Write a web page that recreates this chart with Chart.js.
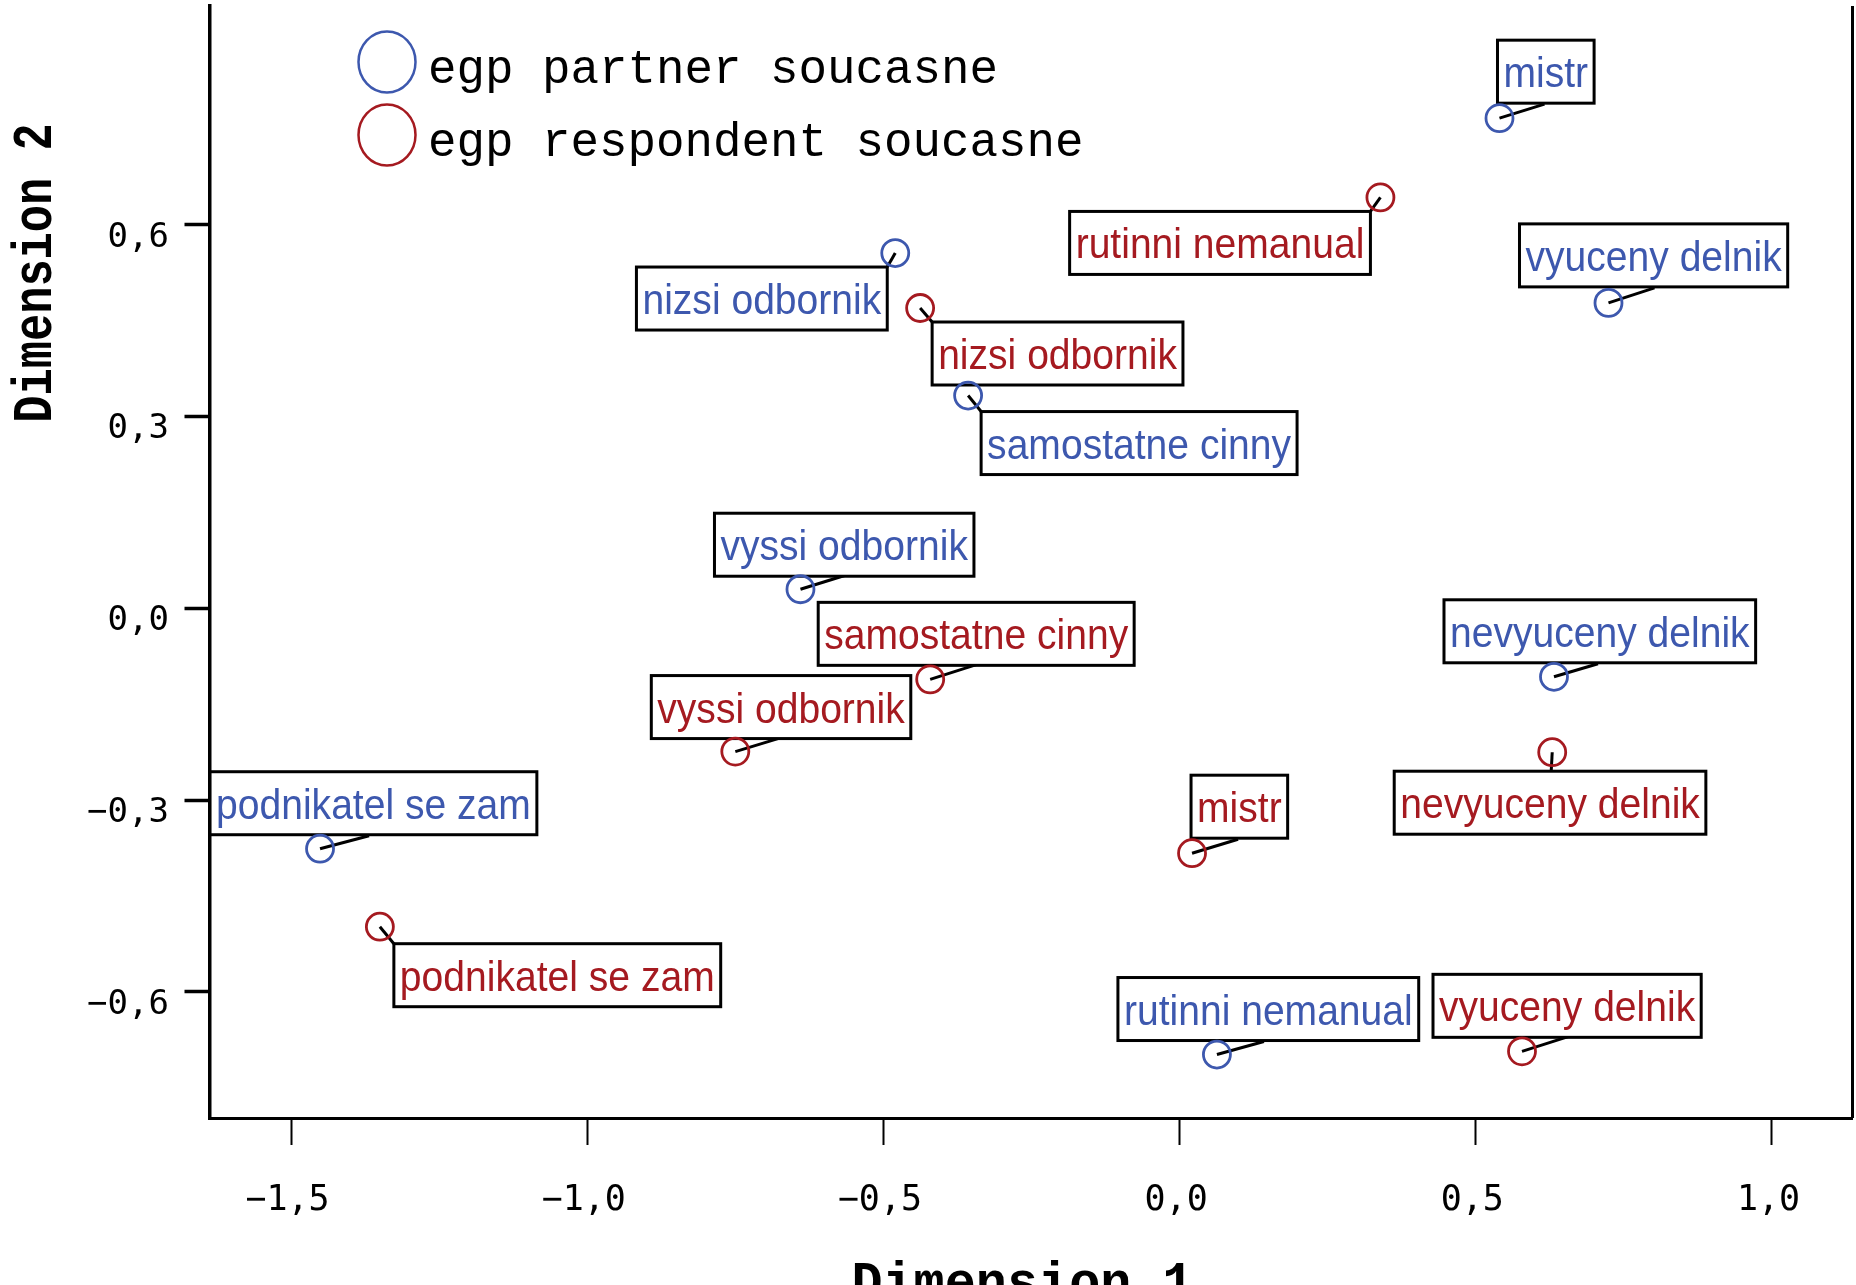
<!DOCTYPE html>
<html><head><meta charset="utf-8">
<script src="https://cdn.jsdelivr.net/npm/chart.js@4.4.0/dist/chart.umd.min.js"></script>
<style>html,body{margin:0;padding:0;background:#fff;overflow:hidden}canvas{display:block}</style>
</head><body>
<canvas id="c" width="1856" height="1285" style="width:1856px;height:1285px"></canvas>
<script>
// ---- data ----
const categories = ["mistr", "vyuceny delnik", "nizsi odbornik", "samostatne cinny", "vyssi odbornik", "nevyuceny delnik", "podnikatel se zam", "rutinni nemanual"];
const seriesNames = ["egp partner soucasne", "egp respondent soucasne"];
const partnerX = [0.540, 0.724, -0.480, -0.357, -0.640, 0.632, -1.451, 0.063];
const partnerY = [0.767, 0.478, 0.556, 0.333, 0.030, -0.107, -0.376, -0.698];
const respondentX = [0.021, 0.578, -0.438, -0.421, -0.750, 0.629, -1.350, 0.339];
const respondentY = [-0.383, -0.693, 0.470, -0.111, -0.224, -0.225, -0.498, 0.643];
const xTicks = [-1.5, -1.0, -0.5, 0.0, 0.5, 1.0];
const yTicks = [-0.6, -0.3, 0.0, 0.3, 0.6];
const axisTitles = ["Dimension 1", "Dimension 2"];

// ---- label placement (pixel offsets from each point) ----
const partnerLabelLayout = [
  {side: 'left', dx: -2, dy: -78, ax: 45, ay: -14},
  {side: 'left', dx: -89, dy: -79, ax: 46, ay: -15},
  {side: 'right', dx: -8, dy: 14, ax: -8, ay: 14},
  {side: 'left', dx: 13, dy: 16, ax: 13, ay: 16},
  {side: 'left', dx: -86, dy: -76, ax: 45, ay: -14},
  {side: 'left', dx: -110, dy: -77, ax: 44, ay: -13},
  {side: 'left', dx: -110, dy: -77, ax: 49, ay: -13},
  {side: 'left', dx: -99, dy: -77, ax: 47, ay: -13}
];
const respondentLabelLayout = [
  {side: 'left', dx: -1, dy: -78, ax: 46, ay: -14},
  {side: 'left', dx: -89, dy: -77, ax: 47, ay: -15},
  {side: 'left', dx: 12, dy: 14, ax: 12, ay: 14},
  {side: 'left', dx: -112, dy: -77, ax: 47, ay: -15},
  {side: 'left', dx: -84, dy: -76, ax: 46, ay: -14},
  {side: 'left', dx: -158, dy: 19, ax: -1, ay: 19},
  {side: 'left', dx: 14, dy: 17, ax: 14, ay: 17},
  {side: 'right', dx: -10, dy: 14, ax: -10, ay: 14}
];

const BLUE = 'rgb(61,88,174)';
const RED = 'rgb(165,26,32)';
const MONO = '"Courier New","Liberation Mono",monospace';
const LABEL_SX = 0.93;

function fmt(v) {
  const s = Math.abs(v).toFixed(1).replace('.', ',');
  return (v < -1e-9 ? '\u2212' : '') + s;
}

const labelPlugin = {
  id: 'pointLabels',
  beforeDatasetsDraw(chart) {
    const ctx = chart.ctx;
    const layouts = [partnerLabelLayout, respondentLabelLayout];
    ctx.save();
    ctx.font = '42px "Liberation Sans", Arial, sans-serif';
    chart.data.datasets.forEach((ds, i) => {
      const meta = chart.getDatasetMeta(i);
      meta.data.forEach((el, j) => {
        const L = layouts[i][j];
        const text = categories[j];
        const tw = ctx.measureText(text).width * LABEL_SX;
        const w = tw + 12, h = 63;
        const left = L.side === 'left' ? el.x + L.dx : el.x + L.dx - w;
        const top = el.y + L.dy;
        ctx.strokeStyle = '#000';
        ctx.lineWidth = 3;
        ctx.beginPath();
        ctx.moveTo(el.x, el.y);
        ctx.lineTo(el.x + L.ax, el.y + L.ay);
        ctx.stroke();
        ctx.fillStyle = '#fff';
        ctx.fillRect(left, top, w, h);
        ctx.strokeRect(left, top, w, h);
        ctx.fillStyle = ds.borderColor;
        ctx.textBaseline = 'alphabetic';
        ctx.textAlign = 'left';
        ctx.save();
        ctx.translate(left + 6, top + 47);
        ctx.scale(LABEL_SX, 1);
        ctx.fillText(text, 0, 0);
        ctx.restore();
      });
    });
    ctx.restore();
  },
  afterDraw(chart) {
    const ctx = chart.ctx;
    const a = chart.chartArea;
    ctx.save();
    // right frame line
    ctx.strokeStyle = '#000';
    ctx.lineWidth = 3;
    ctx.beginPath();
    ctx.moveTo(a.right, a.top);
    ctx.lineTo(a.right, a.bottom);
    ctx.stroke();
    // legend
    chart.data.datasets.forEach((ds, i) => {
      const cx = 387, cy = 62 + i * 73;
      ctx.strokeStyle = ds.borderColor;
      ctx.lineWidth = 2.5;
      ctx.beginPath();
      ctx.ellipse(cx, cy, 28.5, 30.5, 0, 0, Math.PI * 2);
      ctx.stroke();
      ctx.fillStyle = '#000';
      ctx.font = '47.5px ' + MONO;
      ctx.textAlign = 'left';
      ctx.textBaseline = 'alphabetic';
      ctx.fillText(ds.label, 428, cy + 21);
    });
    // axis titles
    ctx.fillStyle = '#000';
    ctx.textAlign = 'center';
    ctx.textBaseline = 'alphabetic';
    ctx.font = 'bold 56px ' + MONO;
    ctx.save();
    ctx.translate(51, 273);
    ctx.rotate(-Math.PI / 2);
    ctx.scale(0.81, 1);
    ctx.fillText(axisTitles[1], 0, 0);
    ctx.restore();
    ctx.save();
    ctx.font = 'bold 54px ' + MONO;
    ctx.translate((a.left + a.right) / 2 - 8.5, 1299);
    ctx.scale(0.96, 1);
    ctx.fillText(axisTitles[0], 0, 0);
    ctx.restore();
    ctx.restore();
  }
};

new Chart(document.getElementById('c'), {
  type: 'scatter',
  data: {
    datasets: [
      {
        label: seriesNames[0],
        data: partnerX.map((x, i) => ({x: x, y: partnerY[i]})),
        borderColor: BLUE,
        backgroundColor: 'rgba(0,0,0,0)',
        pointRadius: 13.5,
        pointBorderWidth: 2.8,
        pointHoverRadius: 13.5
      },
      {
        label: seriesNames[1],
        data: respondentX.map((x, i) => ({x: x, y: respondentY[i]})),
        borderColor: RED,
        backgroundColor: 'rgba(0,0,0,0)',
        pointRadius: 13.5,
        pointBorderWidth: 2.8,
        pointHoverRadius: 13.5
      }
    ]
  },
  options: {
    responsive: false,
    animation: false,
    devicePixelRatio: 1,
    layout: {autoPadding: false, padding: {top: 6, right: 3.5, left: 0, bottom: 0}},
    plugins: {legend: {display: false}, tooltip: {enabled: false}},
    scales: {
      x: {
        type: 'linear',
        min: -1.6376,
        max: 1.1359,
        afterBuildTicks: s => { s.ticks = xTicks.map(v => ({value: v})); },
        afterFit: s => { s.height = 167; s.paddingLeft = 0; s.paddingRight = 0; },
        border: {display: true, color: '#000', width: 3},
        grid: {display: true, drawOnChartArea: false, drawTicks: true, tickLength: 27, tickWidth: 2, tickColor: '#000'},
        ticks: {
          callback: v => fmt(v),
          color: '#000',
          font: {family: 'DejaVu Sans Mono', size: 35},
          padding: 35,
          labelOffset: -3.5,
          maxRotation: 0,
          autoSkip: false
        }
      },
      y: {
        type: 'linear',
        min: -0.7973,
        max: 0.9425,
        afterBuildTicks: s => { s.ticks = yTicks.map(v => ({value: v})); },
        afterFit: s => { s.width = 209.5; s.paddingTop = 0; s.paddingBottom = 0; },
        border: {display: true, color: '#000', width: 3.5},
        grid: {display: true, drawOnChartArea: false, drawTicks: true, tickLength: 25, tickWidth: 3.5, tickColor: '#000'},
        ticks: {
          callback: v => fmt(v),
          color: '#000',
          font: {family: 'DejaVu Sans Mono', size: 34},
          padding: 15.5,
          labelOffset: 13,
          autoSkip: false
        }
      }
    }
  },
  plugins: [labelPlugin]
});
</script>
</body></html>
